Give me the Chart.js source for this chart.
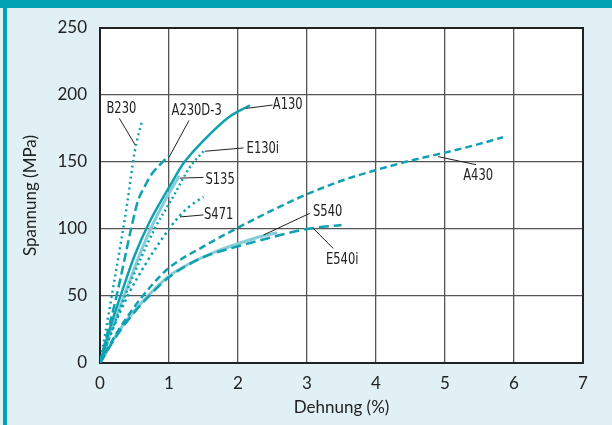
<!DOCTYPE html>
<html>
<head>
<meta charset="utf-8">
<script src="https://cdn.jsdelivr.net/npm/chart.js@4"></script>
<style>
  body { margin: 0; background: #e1f0f4; }
  canvas { display: block; }
</style>
</head>
<body>
<canvas id="chart" width="612" height="425"></canvas>
<script>
// strain (%) / stress (MPa)
const b230Strain = [0, 0.1, 0.2, 0.3, 0.4, 0.5, 0.61];
const b230Stress = [0, 29, 59, 89, 121, 157, 181];

const a230d3Strain = [0, 0.12, 0.24, 0.35, 0.45, 0.55, 0.65, 0.75, 0.87, 1.0];
const a230d3Stress = [0, 25, 50, 76, 100, 121, 132, 141, 148, 155];

const a130Strain = [0, 0.15, 0.31, 0.5, 0.725, 1.0, 1.21, 1.5, 1.88, 2.16];
const a130Stress = [0, 27, 52, 80, 106, 131, 149, 166, 184, 192];

const e130iStrain = [0, 0.2, 0.4, 0.6, 0.8, 1.06, 1.3, 1.5];
const e130iStress = [0, 28, 55, 79, 101, 124, 146, 158];

const s135Strain = [0, 0.2, 0.4, 0.6, 0.77, 0.95, 1.14];
const s135Stress = [0, 30, 57, 84, 104, 122, 139];

const s471Strain = [0, 0.2, 0.4, 0.65, 1.0, 1.14, 1.3, 1.5];
const s471Stress = [0, 27, 50, 73, 100, 109, 117, 124];

const s540Strain = [0, 0.25, 0.5, 0.75, 1.0, 1.33, 1.67, 2.0, 2.3, 2.55];
const s540Stress = [0, 22, 39, 53, 65, 75, 83, 89, 94, 97];

const e540iStrain = [0, 0.25, 0.5, 0.75, 1.0, 1.5, 2.0, 2.5, 3.0, 3.5];
const e540iStress = [0, 21, 38, 52, 64, 79, 87, 94, 100, 103];

const a430Strain = [0, 0.25, 0.5, 0.75, 1.0, 1.5, 2.0, 2.5, 3.0, 3.5, 4.0, 4.5, 5.0, 5.5, 5.84];
const a430Stress = [0, 23, 42, 58, 71, 87, 101, 114, 126, 136, 144, 151, 157, 163.5, 168.5];

const xTicks = [0, 1, 2, 3, 4, 5, 6, 7];
const yTicks = [0, 50, 100, 150, 200, 250];

// callout text and leader lines, in data units
const callouts = [
  { text: "B230",    tx: 0.31, ty: 190,   from: [0.28, 182.6], to: [0.51, 162.7] },
  { text: "A230D-3", tx: 1.40, ty: 188,   from: [1.29, 181],   to: [1.0, 153.5] },
  { text: "A130",    tx: 2.72, ty: 193,   from: [2.5, 192.5],  to: [2.12, 190] },
  { text: "E130i",   tx: 2.36, ty: 160,   from: [2.08, 160.5], to: [1.52, 158] },
  { text: "S135",    tx: 1.74, ty: 137,   from: [1.5, 138.5],  to: [1.16, 138] },
  { text: "S471",    tx: 1.72, ty: 110.5, from: [1.5, 110.5],  to: [1.16, 109] },
  { text: "S540",    tx: 3.30, ty: 112.7, from: [3.04, 111.7], to: [2.37, 95.5] },
  { text: "E540i",   tx: 3.51, ty: 77,    from: [3.38, 85.5],  to: [3.09, 100.5] },
  { text: "A430",    tx: 5.48, ty: 140,   from: [5.45, 148],   to: [4.9, 154] },
];

const TEAL = "#0fa1b2";
const PALE = "#84cdd7";

function pts(xs, ys) {
  return xs.map((x, i) => ({ x: x, y: ys[i] }));
}

function line(label, xs, ys, color, dash, width) {
  return {
    label: label,
    data: pts(xs, ys),
    showLine: true,
    borderColor: color,
    backgroundColor: color,
    borderWidth: width,
    borderDash: dash,
    borderCapStyle: dash.length ? "butt" : "round",
    pointRadius: 0,
    cubicInterpolationMode: "monotone",
    fill: false,
  };
}

const backdrop = {
  id: "backdrop",
  beforeDraw(chart) {
    const ctx = chart.ctx;
    const a = chart.chartArea;
    ctx.save();
    ctx.fillStyle = "#e1f0f4";
    ctx.fillRect(0, 0, chart.width, chart.height);
    ctx.fillStyle = "#00a2b3";
    ctx.fillRect(0, 0, chart.width, 8);
    ctx.fillRect(3, 0, 4, chart.height);
    ctx.fillStyle = "#ffffff";
    ctx.fillRect(a.left, a.top, a.right - a.left, a.bottom - a.top);
    ctx.restore();
  },
  beforeDatasetsDraw(chart) {
    const ctx = chart.ctx;
    const a = chart.chartArea;
    ctx.save();
    ctx.strokeStyle = "#222";
    ctx.lineWidth = 2;
    ctx.strokeRect(a.left, a.top, a.right - a.left, a.bottom - a.top);
    ctx.restore();
  },
};

const calloutPlugin = {
  id: "callouts",
  afterDatasetsDraw(chart) {
    const ctx = chart.ctx;
    const xs = chart.scales.x;
    const ys = chart.scales.y;
    ctx.save();
    ctx.strokeStyle = "#222";
    ctx.lineWidth = 1;
    ctx.fillStyle = "#222";
    ctx.font = '16px "Liberation Sans Narrow", "DejaVu Sans Condensed", sans-serif';
    ctx.textAlign = "center";
    ctx.textBaseline = "middle";
    for (let c of callouts) {
      ctx.beginPath();
      ctx.moveTo(xs.getPixelForValue(c.from[0]), ys.getPixelForValue(c.from[1]));
      ctx.lineTo(xs.getPixelForValue(c.to[0]), ys.getPixelForValue(c.to[1]));
      ctx.stroke();
      // squeeze the glyphs, the original lettering is a tall condensed face
      let px = xs.getPixelForValue(c.tx);
      let py = ys.getPixelForValue(c.ty);
      ctx.save();
      ctx.translate(px, py);
      ctx.scale(0.8, 1);
      ctx.fillText(c.text, 0, 0);
      ctx.restore();
    }
    ctx.restore();
  },
};

const tickFont = { family: "Lato", size: 17 };

new Chart(document.getElementById("chart").getContext("2d"), {
  type: "scatter",
  data: {
    datasets: [
      line("A130", a130Strain, a130Stress, TEAL, [], 2.5),
      line("B230", b230Strain, b230Stress, TEAL, [2, 3.5], 2.5),
      line("A230D-3", a230d3Strain, a230d3Stress, TEAL, [9, 4], 2.5),
      line("E130i", e130iStrain, e130iStress, TEAL, [2, 3], 2.5),
      line("S471", s471Strain, s471Stress, TEAL, [2.5, 3.5], 2.5),
      line("E540i", e540iStrain, e540iStress, TEAL, [10, 5], 2.5),
      line("A430", a430Strain, a430Stress, TEAL, [7, 4], 2.5),
      line("S135", s135Strain, s135Stress, PALE, [], 3),
      line("S540", s540Strain, s540Stress, PALE, [], 3),
    ],
  },
  options: {
    responsive: false,
    animation: false,
    layout: { padding: { left: 16, right: 29, top: 28, bottom: 5 } },
    plugins: {
      legend: { display: false },
      tooltip: { enabled: false },
    },
    scales: {
      x: {
        type: "linear",
        min: 0,
        max: 7,
        afterFit(scale) { scale.height = 57; },
        afterBuildTicks(scale) { scale.ticks = xTicks.map(v => ({ value: v })); },
        ticks: { font: tickFont, color: "#222", padding: 10 },
        grid: { color: "#555", lineWidth: 1.3, drawTicks: false },
        border: { color: "#222", width: 2 },
        title: {
          display: true,
          text: "Dehnung (%)",
          font: tickFont,
          color: "#222",
          padding: { top: 4, bottom: 2 },
        },
      },
      y: {
        type: "linear",
        min: 0,
        max: 250,
        afterFit(scale) { scale.width = 84; },
        afterBuildTicks(scale) { scale.ticks = yTicks.map(v => ({ value: v })); },
        ticks: { font: tickFont, color: "#222", padding: 13 },
        grid: { color: "#555", lineWidth: 1.3, drawTicks: false },
        border: { color: "#222", width: 2 },
        title: {
          display: true,
          text: "Spannung (MPa)",
          font: tickFont,
          color: "#222",
          padding: { top: 4, bottom: 4 },
        },
      },
    },
  },
  plugins: [backdrop, calloutPlugin],
});
</script>
</body>
</html>
